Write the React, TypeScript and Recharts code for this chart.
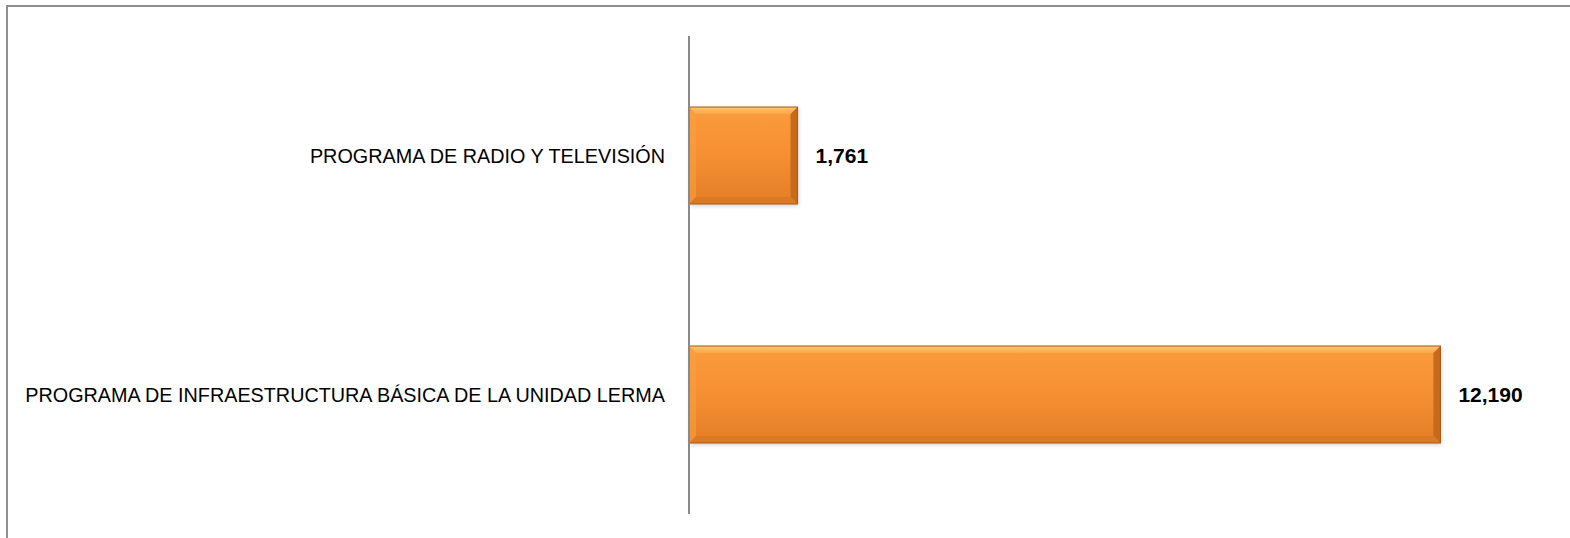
import { Bar, BarChart, LabelList, XAxis, YAxis } from "recharts";

const CATEGORIES = [
  "PROGRAMA DE RADIO Y TELEVISIÓN",
  "PROGRAMA DE INFRAESTRUCTURA BÁSICA DE LA UNIDAD LERMA",
];
const VALUES = [1761, 12190];

const data = CATEGORIES.map((name, i) => ({ name, value: VALUES[i] }));

// bevelled orange bar, like the office-style preset
function BevelBar(props: any) {
  const { x, y, width, height } = props;
  if (!width || width <= 0) return null;
  const b = Math.min(7, width / 4, height / 4);
  return (
    <g>
      <rect x={x + 1} y={y + 2} width={width} height={height} fill="#000" opacity={0.18} filter="url(#soft)" />
      <rect x={x} y={y} width={width} height={height} fill="url(#barFill)" />
      {/* top */}
      <polygon
        points={`${x},${y} ${x + width},${y} ${x + width - b},${y + b} ${x + b},${y + b}`}
        fill="url(#topFill)"
      />
      {/* left */}
      <polygon
        points={`${x},${y} ${x + b},${y + b} ${x + b},${y + height - b} ${x},${y + height}`}
        fill="#f9a040"
        opacity={0.6}
      />
      {/* right */}
      <polygon
        points={`${x + width},${y} ${x + width},${y + height} ${x + width - b},${y + height - b} ${x + width - b},${y + b}`}
        fill="#c86a1c"
      />
      {/* bottom */}
      <polygon
        points={`${x},${y + height} ${x + width},${y + height} ${x + width - b},${y + height - b} ${x + b},${y + height - b}`}
        fill="#dc7a24"
      />
      <rect x={x} y={y} width={width} height={height} fill="none" stroke="#a5581a" strokeWidth={1} />
    </g>
  );
}

export default function App() {
  return (
    <div style={{ position: "absolute", left: 0, top: 0, width: 1570, height: 538, background: "#fff", overflow: "hidden" }}>
      <div
        style={{
          position: "absolute",
          left: 6,
          top: 5,
          width: 1600,
          height: 600,
          borderTop: "2px solid #8f8f8f",
          borderLeft: "2px solid #8f8f8f",
        }}
      />
      <div style={{ position: "absolute", left: 0, top: 0 }}>
        <BarChart
          width={1570}
          height={538}
          data={data}
          layout="vertical"
          margin={{ top: 36, right: 18, bottom: 24, left: 0 }}
        >
          <defs>
            <linearGradient id="barFill" x1="0" y1="0" x2="0" y2="1">
              <stop offset="0%" stopColor="#fb9c3c" />
              <stop offset="50%" stopColor="#f58f32" />
              <stop offset="100%" stopColor="#e47e27" />
            </linearGradient>
            <linearGradient id="topFill" x1="0" y1="0" x2="0" y2="1">
              <stop offset="0%" stopColor="#fcc66e" />
              <stop offset="100%" stopColor="#fba847" />
            </linearGradient>
            <filter id="soft" x="-5%" y="-10%" width="110%" height="130%">
              <feGaussianBlur stdDeviation="2" />
            </filter>
          </defs>
          <XAxis type="number" domain={[0, 14000]} hide />
          <YAxis
            type="category"
            dataKey="name"
            width={689}
            axisLine={{ stroke: "#8a8a8a", strokeWidth: 2 }}
            tickLine={false}
            tickSize={0}
            tickMargin={24}
            tick={{ fill: "#000", fontSize: 19.8, fontFamily: "Liberation Sans, Arial, sans-serif" }}
          />
          <Bar dataKey="value" barSize={97} shape={<BevelBar />} isAnimationActive={false}>
            <LabelList
              dataKey="value"
              position="right"
              offset={18}
              formatter={(v: any) => Number(v).toLocaleString("en-US")}
              style={{ fill: "#000", fontSize: 21, fontWeight: 700, fontFamily: "Liberation Sans, Arial, sans-serif" }}
            />
          </Bar>
        </BarChart>
      </div>
    </div>
  );
}
